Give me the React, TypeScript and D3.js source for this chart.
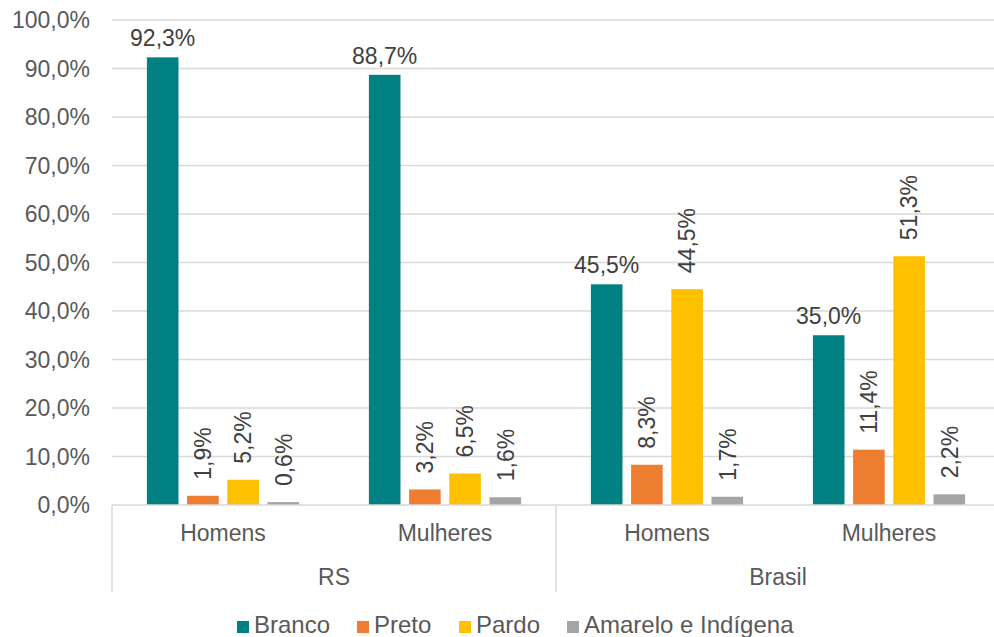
import React, { useEffect, useRef } from 'react';
import * as d3 from 'd3';

// series / categories
const series = ['Branco', 'Preto', 'Pardo', 'Amarelo e Indígena'];
const colors = ['#008080', '#ED7D31', '#FFC000', '#A5A5A5'];
const groups = ['RS', 'Brasil'];
const sexes = ['Homens', 'Mulheres'];

const rsHomens = [92.3, 1.9, 5.2, 0.6];
const rsMulheres = [88.7, 3.2, 6.5, 1.6];
const brHomens = [45.5, 8.3, 44.5, 1.7];
const brMulheres = [35.0, 11.4, 51.3, 2.2];

const yTicks = [0, 10, 20, 30, 40, 50, 60, 70, 80, 90, 100];

const fmt = (v: number) => v.toFixed(1).replace('.', ',') + '%';

const App = () => {
  const svgRef = useRef<SVGSVGElement>(null);

  useEffect(() => {
    const svg = d3.select(svgRef.current);
    svg.selectAll('*').remove();

    const W = 994;
    const left = 112;
    const right = 1000;
    const top = 20;
    const bottom = 505;
    const font = "'Liberation Sans', Arial, sans-serif";
    const fs = 23;

    const cats = groups.flatMap((g) => sexes.map((s) => `${g}|${s}`));
    const values: Record<string, number[]> = {
      'RS|Homens': rsHomens,
      'RS|Mulheres': rsMulheres,
      'Brasil|Homens': brHomens,
      'Brasil|Mulheres': brMulheres,
    };

    const x0 = d3.scaleBand().domain(cats).range([left, right]);
    const x1 = d3
      .scaleBand()
      .domain(series)
      .range([0, x0.bandwidth()])
      .paddingInner(0.214)
      .paddingOuter(0.868);
    const y = d3.scaleLinear().domain([0, 100]).range([bottom, top]);

    // gridlines
    svg
      .append('g')
      .selectAll('line')
      .data(yTicks.filter((t) => t > 0))
      .enter()
      .append('line')
      .attr('x1', left)
      .attr('x2', W)
      .attr('y1', (d) => y(d))
      .attr('y2', (d) => y(d))
      .attr('stroke', '#d9d9d9')
      .attr('stroke-width', 1.3);

    // y tick labels
    svg
      .append('g')
      .selectAll('text')
      .data(yTicks)
      .enter()
      .append('text')
      .attr('x', 90)
      .attr('y', (d) => y(d))
      .attr('dy', '0.36em')
      .attr('text-anchor', 'end')
      .attr('font-family', font)
      .attr('font-size', fs)
      .attr('fill', '#595959')
      .text((d) => fmt(d));

    // bars
    const flat = cats.flatMap((c) =>
      series.map((s, i) => ({ cat: c, s, i, v: values[c][i] }))
    );
    svg
      .append('g')
      .selectAll('rect')
      .data(flat)
      .enter()
      .append('rect')
      .attr('x', (d) => (x0(d.cat) as number) + (x1(d.s) as number))
      .attr('y', (d) => y(d.v))
      .attr('width', x1.bandwidth())
      .attr('height', (d) => bottom - y(d.v))
      .attr('fill', (d) => colors[d.i]);

    // data labels: Branco horizontal, others rotated
    const lbl = svg.append('g').attr('font-family', font).attr('font-size', fs).attr('fill', '#404040');
    flat.forEach((d) => {
      const cx = (x0(d.cat) as number) + (x1(d.s) as number) + x1.bandwidth() / 2;
      if (d.i === 0) {
        lbl
          .append('text')
          .attr('x', cx)
          .attr('y', y(d.v) - 11)
          .attr('text-anchor', 'middle')
          .text(fmt(d.v));
      } else {
        lbl
          .append('text')
          .attr('transform', `translate(${cx + 8.3},${y(d.v) - 16}) rotate(-90)`)
          .attr('text-anchor', 'start')
          .text(fmt(d.v));
      }
    });

    // axis line
    svg
      .append('line')
      .attr('x1', left)
      .attr('x2', W)
      .attr('y1', bottom)
      .attr('y2', bottom)
      .attr('stroke', '#d9d9d9')
      .attr('stroke-width', 1.5);

    // group separators
    const sepX = [left, (x0(`Brasil|Homens`) as number), right];
    svg
      .append('g')
      .selectAll('line')
      .data(sepX)
      .enter()
      .append('line')
      .attr('x1', (d) => d)
      .attr('x2', (d) => d)
      .attr('y1', bottom)
      .attr('y2', 592)
      .attr('stroke', '#d9d9d9')
      .attr('stroke-width', 1.5);

    // category labels
    svg
      .append('g')
      .selectAll('text')
      .data(cats)
      .enter()
      .append('text')
      .attr('x', (d) => (x0(d) as number) + x0.bandwidth() / 2)
      .attr('y', 541)
      .attr('text-anchor', 'middle')
      .attr('font-family', font)
      .attr('font-size', fs)
      .attr('fill', '#595959')
      .text((d) => d.split('|')[1]);

    svg
      .append('g')
      .selectAll('text')
      .data(groups)
      .enter()
      .append('text')
      .attr('x', (d) => ((x0(`${d}|Homens`) as number) + (x0(`${d}|Mulheres`) as number) + x0.bandwidth()) / 2)
      .attr('y', 585)
      .attr('text-anchor', 'middle')
      .attr('font-family', font)
      .attr('font-size', fs)
      .attr('fill', '#595959')
      .text((d) => d);

    // legend
    const legX = [237, 357, 459, 567];
    const leg = svg.append('g');
    series.forEach((s, i) => {
      leg
        .append('rect')
        .attr('x', legX[i])
        .attr('y', 621)
        .attr('width', 12)
        .attr('height', 12)
        .attr('fill', colors[i]);
      leg
        .append('text')
        .attr('x', legX[i] + 17)
        .attr('y', 633)
        .attr('font-family', font)
        .attr('font-size', 24)
        .attr('fill', '#595959')
        .text(s);
    });
  }, []);

  return (
    <svg
      ref={svgRef}
      width={994}
      height={637}
      style={{ position: 'absolute', left: 0, top: 0, background: '#fff', overflow: 'hidden' }}
    />
  );
};

export default App;
